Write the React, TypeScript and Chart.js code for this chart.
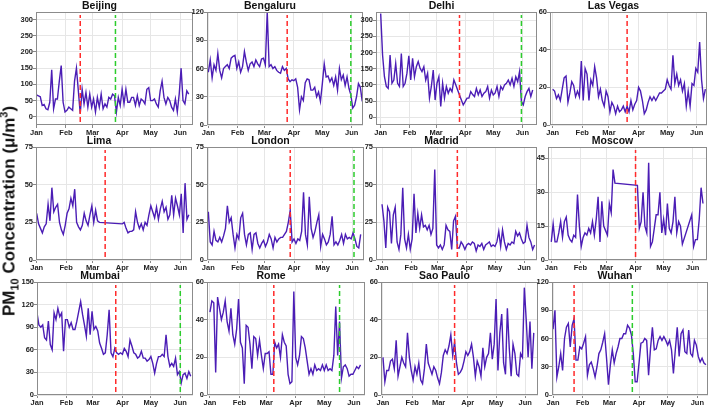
import React, { useEffect, useRef } from "react";
import { Chart, registerables } from "chart.js";

Chart.register(...registerables);
Chart.defaults.font.family = '"Liberation Sans", Arial, sans-serif';
Chart.defaults.color = "#222";

// ---------- DATA ----------
const MONTH_DAYS = [0, 31, 59, 90, 120, 151];
const MONTH_LABELS = ["Jan", "Feb", "Mar", "Apr", "May", "Jun"];
const STEP_DAYS = 2; // values below are every 2nd day starting Jan 1

const CITIES = ["Beijing", "Bengaluru", "Delhi", "Las Vegas", "Lima", "London", "Madrid", "Moscow", "Mumbai", "Rome", "Sao Paulo", "Wuhan"];

const beijing = [68,65,62,35,38,25,22,45,145,25, 55,55,110,158,45,15,20,30,25,20, 110,150,80,10,85,40,75,30,70,30, 55,15,60,30,70,25,40,30,60,55, 70,65,15,60,35,85,40,85,45,45, 60,60,35,65,35,55,50,40,85,90, 50,50,55,40,30,80,110,60,40,60, 50,30,20,55,15,70,150,50,40,80, 70];
const bengaluru = [56,69,50,64,58,76,58,50,60,62, 64,60,71,73,74,60,67,56,62,78, 67,58,65,67,62,69,65,62,70,71, 64,120,62,64,60,62,58,56,55,62, 58,60,49,46,48,47,49,40,16,30, 26,45,49,48,37,37,40,30,35,25, 44,65,51,52,46,50,42,51,37,60, 48,53,42,51,39,32,18,21,30,44, 40,25];
const delhi = [320,192,125,95,89,192,105,115,166,105, 95,197,95,105,136,190,115,182,125,156, 172,151,141,156,115,136,59,95,146,53, 105,125,33,105,59,95,74,89,79,115, 100,84,69,53,38,48,59,59,79,70, 64,89,69,84,64,74,79,95,59,84, 69,75,95,64,95,85,100,105,115,100, 120,95,125,110,141,48,38,64,79,89, 64,84];
const lasVegas = [19,18,14,16,13,19,25,26,12,17, 23,21,15,18,15,34,13,30,27,13, 24,21,31,25,15,19,13,10,18,15, 7,12,10,6,10,7,8,10,7,10, 7,13,8,11,13,20,18,13,6,8, 12,15,13,15,13,15,17,17,18,19, 24,21,19,37,22,27,21,24,18,22, 10,18,10,22,21,30,28,44,24,14, 19];
const lima = [31,24,21,18,22,24,37,26,48,32, 35,37,25,20,17,23,31,34,41,36, 47,25,22,20,23,31,26,23,30,36, 25,33,26,25,null,null,null,null,null,null, null,null,null,null,null,24,25,21,18,19, 19,20,32,25,21,24,20,25,23,30, 36,32,28,35,27,34,39,32,35,27, 30,43,30,41,36,30,44,18,51,27, 30];
const london = [32,12,10,19,13,12,15,12,16,21, 36,25,28,17,8,17,14,28,31,17, 10,17,18,7,17,18,11,8,11,13, 9,12,17,14,8,15,12,14,15,15, 17,19,25,33,12,14,11,14,13,19, 45,17,10,42,21,15,19,25,30,9, 17,14,10,12,17,29,10,12,10,13, 17,11,17,14,15,14,18,14,9,8, 17];
const madrid = [37,26,8,35,32,11,30,35,12,7, 17,48,14,8,17,7,14,44,18,31, 21,30,22,23,20,23,17,21,60,10, 8,10,7,10,23,20,19,7,26,29, 8,8,12,10,7,10,11,10,12,11, 6,10,9,11,7,10,11,12,9,10, 9,12,19,9,20,12,7,11,10,12, 11,19,16,18,14,11,12,23,15,12, 7,10];
const moscow = [8,16,8,8,12,17,10,17,19,11, 9,8,11,10,29,15,6,10,12,11, 14,12,17,11,18,28,8,26,15,13, 11,25,21,40,34,null,null,null,null,null, null,null,null,null,null,null,33,14,17,30, 15,12,43,6,8,14,20,20,30,12, 18,11,25,14,12,17,28,12,17,15, 7,null,null,null,null,20,6,9,9,18, 32,25];
const mumbai = [109,93,90,93,76,73,98,67,60,109, 100,115,104,109,58,100,100,90,96,87, 87,98,111,124,107,93,78,115,80,111, 87,91,85,69,62,54,56,80,113,56, 51,62,56,54,56,54,62,58,51,73, 65,56,54,49,51,58,49,49,45,47, 51,42,29,42,51,51,54,51,80,51, 38,42,38,49,27,31,16,27,29,22, 31,25];
const rome = [44,50,49,12,52,46,40,44,50,39, 34,46,32,27,35,51,28,25,6,37, 36,27,14,31,30,21,29,21,14,22, 22,23,11,11,28,25,27,20,32,28, 26,11,6,7,55,20,16,21,31,30, 25,18,11,14,11,16,13,14,13,16, 13,16,13,14,13,21,47,21,39,9, 15,16,14,10,11,11,13,15,14,16];
const saoPaulo = [20,7,13,13,18,19,14,29,10,15, 20,17,15,33,20,13,8,15,11,17, 8,6,14,27,17,14,11,15,13,9, 6,12,21,24,22,26,32,21,28,17, 11,12,14,18,23,21,23,27,20,10, 18,15,10,25,15,20,22,33,19,27, 51,13,33,43,17,11,46,25,10,27, 22,11,10,22,20,57,40,20,39,14, 33];
const wuhan = [70,90,19,30,44,26,60,72,76,51, 74,81,37,37,51,49,55,62,21,32, 35,28,19,30,44,48,56,65,39,11, 32,48,34,44,51,60,60,65,65,74, 71,64,44,14,14,34,55,56,60,58, 21,49,72,48,49,58,62,58,62,58, 53,58,48,23,48,72,41,65,69,46, 44,69,44,41,58,53,41,35,39,34, 32];

const SERIES = [beijing, bengaluru, delhi, lasVegas, lima, london, madrid, moscow, mumbai, rome, saoPaulo, wuhan];

// day-of-year of the red and green dashed markers
const RED_DAYS = [46, 83, 84, 78, 72, 86, 80, 90, 83, 67, 76, 22];
const GREEN_DAYS = [83, 150, 150, null, null, 153, null, null, 151, 136, null, 83];

const Y_MIN = [-25, 0, -24, 0, 0, 0, 0, 0, 0, 0, 0, 0];
const Y_MAX = [323, 120, 325, 60, 75, 75, 75, 50, 150, 60, 60, 120];
const Y_TICKS = [
  [0, 50, 100, 150, 200, 250, 300],
  [0, 30, 60, 90, 120],
  [0, 50, 100, 150, 200, 250, 300],
  [0, 20, 40, 60],
  [0, 25, 50, 75],
  [0, 25, 50, 75],
  [0, 25, 50, 75],
  [0, 15, 30, 45],
  [0, 30, 60, 90, 120, 150],
  [0, 20, 40, 60],
  [0, 20, 40, 60],
  [0, 30, 60, 90, 120],
];
const X_MIN = [-0.5, -1.4, -5, -2.8, -0.7, -1.4, -6.4, -3.5, 0, -3.1, -2.1, -1.1];
const X_MAX = [164.5, 162.8, 166.6, 161.7, 163.3, 163.5, 164.6, 166.3, 164.4, 162.7, 164.5, 162.2];

// ---------- LAYOUT (plot-area boxes: left, top, right, bottom) ----------
const PANEL_BOX = [
  [36, 12, 193, 125], [207, 12, 363, 125], [376, 12, 537, 125], [550, 12, 707, 125],
  [36, 147, 192, 260], [207, 147, 364, 260], [376, 147, 537, 260], [548, 147, 707, 260],
  [37, 282, 193, 395], [207, 282, 365, 395], [381, 282, 538, 395], [552, 282, 708, 395],
];
const YW = 30; // y-axis width
const TH = 14; // title height
const XH = 13; // x-axis height
const RP = 3; // right padding

const LINE_COLOR = "#4b1db5";
const TICK_FONT = { size: 7.5, weight: "bold" as const };

const framePlugin = {
  id: "frame",
  afterDraw(chart: any) {
    const { ctx, chartArea } = chart;
    const l = Math.round(chartArea.left), t = Math.round(chartArea.top);
    const r = Math.round(chartArea.right), b = Math.round(chartArea.bottom);
    ctx.save();
    ctx.strokeStyle = "#8c8c8c";
    ctx.lineWidth = 1;
    ctx.strokeRect(l + 0.5, t + 0.5, r - l - 1, b - t - 1);
    ctx.restore();
  },
};

function Panel({ i }: { i: number }) {
  const ref = useRef<HTMLCanvasElement>(null);
  const [l, t, r, b] = PANEL_BOX[i];
  const w = r - l + YW + RP;
  const h = b - t + TH + XH;

  useEffect(() => {
    const yMin = Y_MIN[i], yMax = Y_MAX[i];
    const span = yMax - yMin;
    const plotH = b - t;
    const lo = yMin + (span * 3) / plotH;
    const hi = yMax - (span * 3) / plotH;
    const datasets: any[] = [];
    const mk = (day: number, color: string) => ({
      data: [{ x: day, y: lo }, { x: day, y: hi }],
      borderColor: color,
      borderWidth: 1.5,
      borderDash: [5, 3],
      pointRadius: 0,
    });
    if (RED_DAYS[i] != null) datasets.push(mk(RED_DAYS[i] as number, "#ff2b2b"));
    if (GREEN_DAYS[i] != null) datasets.push(mk(GREEN_DAYS[i] as number, "#2ccc2c"));
    datasets.push({
      data: SERIES[i].map((v, k) => ({ x: k * STEP_DAYS, y: v })),
      borderColor: LINE_COLOR,
      borderWidth: 1.4,
      pointRadius: 0,
      spanGaps: true,
      tension: 0,
    });

    const chart = new Chart(ref.current as HTMLCanvasElement, {
      type: "line",
      data: { datasets },
      plugins: [framePlugin],
      options: {
        animation: false,
        responsive: false,
        devicePixelRatio: 1,
        events: [],
        layout: { padding: { left: 0, right: RP, top: 0, bottom: 0 } },
        plugins: {
          legend: { display: false },
          tooltip: { enabled: false },
          title: {
            display: true,
            text: CITIES[i],
            color: "#111",
            font: { size: 10.5, weight: "bold", lineHeight: "12px" as any },
            padding: { top: 2, bottom: 0 },
          },
        },
        scales: {
          x: {
            type: "linear",
            min: X_MIN[i],
            max: X_MAX[i],
            afterBuildTicks: (s: any) => {
              s.ticks = MONTH_DAYS.map((v) => ({ value: v }));
            },
            afterFit: (s: any) => {
              s.height = XH;
            },
            ticks: {
              autoSkip: false,
              maxRotation: 0,
              padding: 0,
              color: "#222",
              font: TICK_FONT,
              callback: (v: any) => {
                const k = MONTH_DAYS.indexOf(Number(v));
                return k >= 0 ? MONTH_LABELS[k] : "";
              },
            },
            grid: { color: "#e6e6e6", lineWidth: 1, drawTicks: true, tickLength: 3, tickColor: "#888" },
            border: { display: false },
          },
          y: {
            type: "linear",
            min: Y_MIN[i],
            max: Y_MAX[i],
            afterBuildTicks: (s: any) => {
              s.ticks = Y_TICKS[i].map((v) => ({ value: v }));
            },
            afterFit: (s: any) => {
              s.width = YW;
            },
            ticks: { padding: 0, color: "#222", font: TICK_FONT },
            grid: { color: "#e6e6e6", lineWidth: 1, drawTicks: true, tickLength: 3, tickColor: "#888" },
            border: { display: false },
          },
        },
      },
    } as any);
    return () => chart.destroy();
  }, [i]);

  return (
    <canvas
      ref={ref}
      width={w}
      height={h}
      style={{ position: "absolute", left: l - YW, top: t - TH, width: w, height: h }}
    />
  );
}

export default function App() {
  return (
    <div
      style={{
        position: "fixed",
        left: 0,
        top: 0,
        width: 710,
        height: 408,
        overflow: "hidden",
        background: "#fff",
      }}
    >
      {CITIES.map((_, i) => (
        <Panel key={i} i={i} />
      ))}
      <div
        style={{
          position: "absolute",
          left: 10,
          top: 211,
          transform: "translate(-50%, -50%) rotate(-90deg)",
          whiteSpace: "nowrap",
          font: 'bold 17px "Liberation Sans", Arial, sans-serif',
          lineHeight: "17px",
          color: "#111",
        }}
      >
        PM<span style={{ fontSize: 11, position: "relative", top: 4 }}>10</span> Concentration (μ/m
        <span style={{ fontSize: 11, position: "relative", top: -7 }}>3</span>)
      </div>
    </div>
  );
}
